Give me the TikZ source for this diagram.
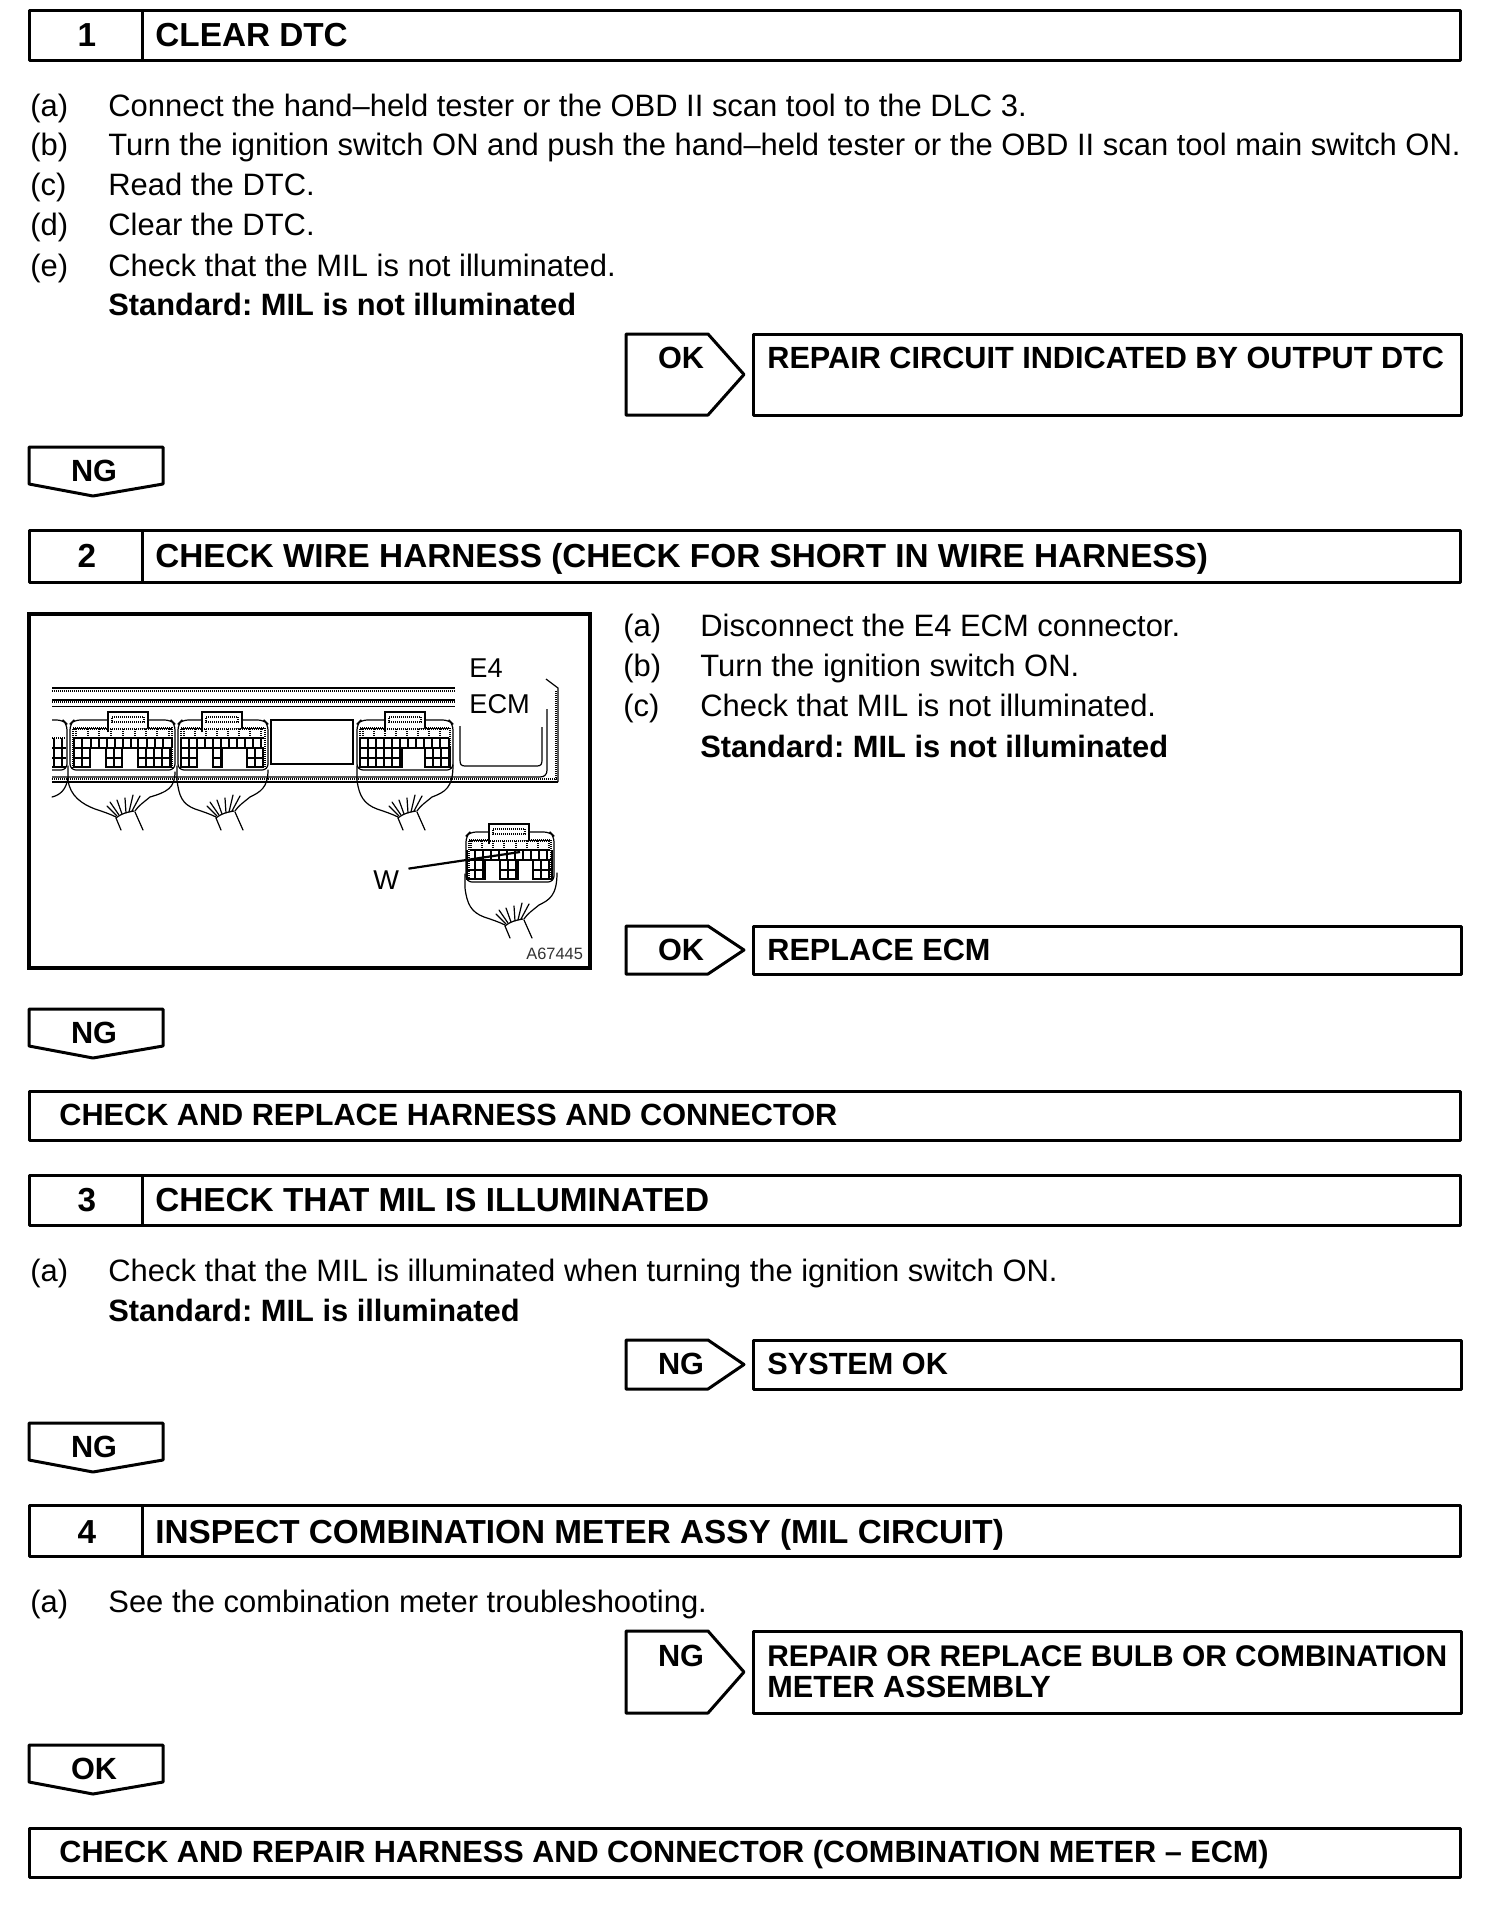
\documentclass[tikz,border=0pt]{standalone}
\usepackage{fontspec}
\setmainfont{Liberation Sans}
\frenchspacing
\tikzset{
  x=0.5pt,y=-0.5pt,
  frameln/.style={draw=black,line width=1.5pt,line join=round},
  bodytxt/.style={anchor=base west,inner sep=0pt,font=\fontsize{15.47pt}{15.47pt}\selectfont},
  boldtxt/.style={anchor=base west,inner sep=0pt,font=\fontsize{15.42pt}{15.42pt}\selectfont\bfseries},
  boxtxt/.style={anchor=base west,inner sep=0pt,font=\fontsize{15.33pt}{15.33pt}\selectfont\bfseries},
  headtxt/.style={anchor=base west,inner sep=0pt,font=\fontsize{16.65pt}{16.65pt}\selectfont\bfseries},
  headnum/.style={anchor=base,inner sep=0pt,font=\fontsize{16.65pt}{16.65pt}\selectfont\bfseries},
  numtxt/.style={anchor=base,inner sep=0pt,font=\fontsize{15.33pt}{15.33pt}\selectfont\bfseries},
  figtxt/.style={anchor=base west,inner sep=0pt,font=\fontsize{13.6pt}{13.6pt}\selectfont},
  tagtxt/.style={anchor=base west,inner sep=0pt,text=black!80,font=\fontsize{8.2pt}{8.2pt}\selectfont},
  dith/.style={line width=.55pt,dash pattern=on .5pt off .5pt},
  solidln/.style={line width=.6pt},
  heavyln/.style={line width=1pt},
  wire/.style={line width=.6pt,line cap=round},
}
% numbered heading bar
\newcommand{\headbar}[5][36]{% baseline offset, top, bottom, number, text
  \draw[frameln] (29,#2) rectangle (1460,#3);
  \draw[frameln] (142,#2) -- (142,#3);
  \node[headnum] (num#4) at (87,#2+#1) {#4};
  \node[headtxt] (head#4) at (155,#2+#1) {#5};
}
\newcommand{\plainbar}[4]{% name, top, bottom, text
  \draw[frameln] (29,#2) rectangle (1460,#3);
  \node[boxtxt] (#1) at (59,#2+34) {#4};
}
% side arrow + result box
\newcommand{\resultbox}[6][34]{% baseline offset, name, top, bottom, label, text
  \pgfmathsetmacro{\midy}{(#3+#4)/2}
  \draw[frameln] (626,#3) -- (708,#3) -- (744,\midy) -- (708,#4) -- (626,#4) -- cycle;
  \draw[frameln] (753,#3) rectangle (1461,#4);
  \node[numtxt] (#2a) at (681,#3+#1) {#5};
  \node[boxtxt] (#2b) at (767,#3+#1) {#6};
}
% downward arrow
\newcommand{\nextarrow}[3]{% name, top, label
  \draw[frameln] (29,#2) -- (163,#2) -- (163,#2+37) -- (93,#2+49) -- (29,#2+37) -- cycle;
  \node[numtxt] (#1) at (94,#2+34) {#3};
}
% ECM connector: x, y, width, tabx, row1 list, row2 list, blocks
\newcommand{\connbody}[7]{%
  \begin{scope}[shift={(#1,#2)}]
    \draw[solidln,rounded corners=3] (0,50) -- (0,4) -- (4,0) -- (#3-4,0) -- (#3,4) -- (#3,50) -- cycle;
    \draw[dith] (3,48) -- (3,8) -- (#3-3,8) -- (#3-3,48);
    \draw[solidln,fill=white] (#4,12) -- (#4,-8) -- (#4+40,-8) -- (#4+40,8);
    \draw[dith] (#4+4,-3) -- (#4+36,-3) -- (#4+36,2) -- (#4+4,2) -- cycle;
    \foreach \a in {#5} \draw[dith] (\a,9) -- (\a,18);
    \foreach \a in {#6} \draw[solidln] (\a,18) -- (\a,28);
    \foreach \a/\b in {#7} {
      \draw[solidln] (\a,28) rectangle (\b,47);
      \draw[solidln] (\a,38) -- (\b,38);
      \pgfmathsetmacro{\stepx}{\a+8}
      \foreach \c in {\stepx,\a+16,\a+24,\a+32,\a+40,\a+48,\a+56} {
        \pgfmathparse{(\c<\b)?1:0}
        \ifnum\pgfmathresult=1 \draw[solidln] (\c,28) -- (\c,47);\fi
      }
      \draw[heavyln] (\a,47) -- (\b,47);
    }
    \draw[dith] (4,9) -- (#3-4,9);
    \draw[solidln] (4,18) -- (#3-4,18);
    \draw[heavyln] (4,28) -- (#3-4,28);
  \end{scope}
}
% wire bundle: x,y offset, right start x, right start y, left start x
\newcommand{\wirebundle}[5]{%
  \begin{scope}[shift={(#1,#2)}]
    \draw[wire] (#5,46) -- (#5,60) .. controls (#5+2,76) and (12,84) .. (25,89) .. controls (34,92) and (40,94) .. (46,97);
    \draw[wire] (46,98) .. controls (52,93) and (58,92) .. (64,91);
    \draw[wire] (46,98) -- (51,110);
    \draw[wire] (65,92) -- (73,110);
    \draw[wire] (#3,#4) .. controls (#3,68) and (#3-8,72) .. (80,77) .. controls (74,82) and (68,86) .. (65,91);
    \draw[wire] (47,96) -- (37,86);
    \draw[wire] (49,95) -- (40,82);
    \draw[wire] (52,94) -- (47,80);
    \draw[wire] (56,93) -- (55,78);
    \draw[wire] (59,92) -- (63,75);
    \draw[wire] (62,91) -- (70,76);
  \end{scope}
}
\begin{document}
\begin{tikzpicture}
\useasboundingbox (0,0) rectangle (1504,1918);
\fill[white] (0,0) rectangle (1504,1918);

% ---- step 1
\headbar{10}{60}{1}{CLEAR DTC}
\foreach \yy/\lab/\txt in {
  116/a/{Connect the hand–held tester or the OBD II scan tool to the DLC 3.},
  155/b/{Turn the ignition switch ON and push the hand–held tester or the OBD II scan tool main switch ON.},
  195/c/{Read the DTC.},
  235/d/{Clear the DTC.},
  276/e/{Check that the MIL is not illuminated.}}{
  \node[bodytxt] (sa\lab) at (30,\yy) {(\lab)};
  \node[bodytxt] (sb\lab) at (108,\yy) {\txt};
}
\node[boldtxt] (std1) at (108,315) {Standard: MIL is not illuminated};
\resultbox{r1}{334}{415}{OK}{REPAIR CIRCUIT INDICATED BY OUTPUT DTC}
\nextarrow{d1}{447}{NG}

% ---- step 2
\headbar[37]{530}{582}{2}{CHECK WIRE HARNESS (CHECK FOR SHORT IN WIRE HARNESS)}
\draw[line width=1.6pt] (29,614) rectangle (590,968);
% rails
\draw[line width=.7pt] (52,688) -- (455,688);
\draw[dith] (52,691) -- (455,691);
\draw[solidln] (52,700) -- (455,700);
\draw[dith] (52,702) -- (455,702);
\draw[solidln] (52,706.5) -- (455,706.5);
\draw[line width=1.2pt] (52,782) -- (558,782);
\draw[solidln] (52,777) -- (540,777) .. controls (545,777) and (547,774) .. (547,770) -- (547,709);
\draw[dith] (52,779) -- (558,779);
\draw[solidln] (558,782) -- (558,688) -- (546,679);
\draw[dith] (556,782) -- (556,690);
\draw[solidln] (460,726) -- (460,760) .. controls (460,764) and (461,766) .. (465,766) -- (537,766) .. controls (541,766) and (542,764) .. (542,760) -- (542,727);
\draw[solidln] (271,720) rectangle (353,764);
% partial connector at the left
\draw[solidln,rounded corners=3] (52,720) -- (63,720) -- (67,724) -- (67,770) -- (52,770);
\draw[dith] (52,738) -- (66,738);
\foreach \a in {54,62} \draw[solidln] (\a,738) -- (\a,767);
\draw[solidln] (52,748) -- (66,748);
\draw[heavyln] (52,758) -- (66,758);
\draw[heavyln] (52,767) -- (66,767);
\draw[wire] (68,778) .. controls (66,790) and (60,795) .. (52,797);
% connectors
\connbody{70}{720}{105}{38}{6,18,29,41,53,65,76,87,99}{4,12,21,29,37,45,53,61,68,77,85,93,102}{4/20,36/52,68/101}
\connbody{178}{720}{90}{24}{6,17,28,39,50,61,72,83}{3,11,19,27,35,43,51,59,67,75,83}{3/19,35/44,69/85}
\connbody{357}{720}{96}{28}{6,17,28,39,50,61,72,83}{3,11,19,27,35,43,51,59,67,75,83,92}{3/45,68/93}
\connbody{466}{832}{88}{23}{5,16,27,38,50,61,72,83}{1,9,17,25,33,41,49,57,65,73,81,86}{1/19,34/52,67/86}
\wirebundle{70}{720}{105}{52}{-2}
\wirebundle{170}{720}{98}{50}{7}
\wirebundle{352}{720}{101}{45}{5}
\wirebundle{459}{828}{98}{45}{6}
% labels of the figure
\node[figtxt] (e4) at (469,677) {E4};
\node[figtxt] (ecm) at (469,713) {ECM};
\node[figtxt] (w) at (373,889) {W};
\node[tagtxt] (tag) at (526,959) {A67445};
\draw[line width=1.1pt] (w.east) ++(9,-11) coordinate (wa) (wa) -- (520,852);

\foreach \yy/\lab/\txt in {
  636/a/{Disconnect the E4 ECM connector.},
  676/b/{Turn the ignition switch ON.},
  716/c/{Check that MIL is not illuminated.}}{
  \node[bodytxt] (ta\lab) at (623,\yy) {(\lab)};
  \node[bodytxt] (tb\lab) at (700,\yy) {\txt};
}
\node[boldtxt] (std2) at (700,757) {Standard: MIL is not illuminated};
\resultbox{r2}{926}{974}{OK}{REPLACE ECM}
\nextarrow{d2}{1009}{NG}
\plainbar{p1}{1091}{1140}{CHECK AND REPLACE HARNESS AND CONNECTOR}

% ---- step 3
\headbar{1175}{1225}{3}{CHECK THAT MIL IS ILLUMINATED}
\node[bodytxt] (ua) at (30,1281) {(a)};
\node[bodytxt] (ub) at (108,1281) {Check that the MIL is illuminated when turning the ignition switch ON.};
\node[boldtxt] (std3) at (108,1321) {Standard: MIL is illuminated};
\resultbox{r3}{1340}{1389}{NG}{SYSTEM OK}
\nextarrow{d3}{1423}{NG}

% ---- step 4
\headbar[38]{1505}{1556}{4}{INSPECT COMBINATION METER ASSY (MIL CIRCUIT)}
\node[bodytxt] (va) at (30,1612) {(a)};
\node[bodytxt] (vb) at (108,1612) {See the combination meter troubleshooting.};
\resultbox[35]{r4}{1631}{1713}{NG}{\fontsize{14.95pt}{14.95pt}\selectfont REPAIR OR REPLACE BULB OR COMBINATION}
\node[boxtxt] (r4c) at (767,1697) {METER ASSEMBLY};
\nextarrow{d4}{1745}{OK}
\plainbar{p2}{1828}{1877}{CHECK AND REPAIR HARNESS AND CONNECTOR (COMBINATION METER – ECM)}
\end{tikzpicture}
\end{document}
